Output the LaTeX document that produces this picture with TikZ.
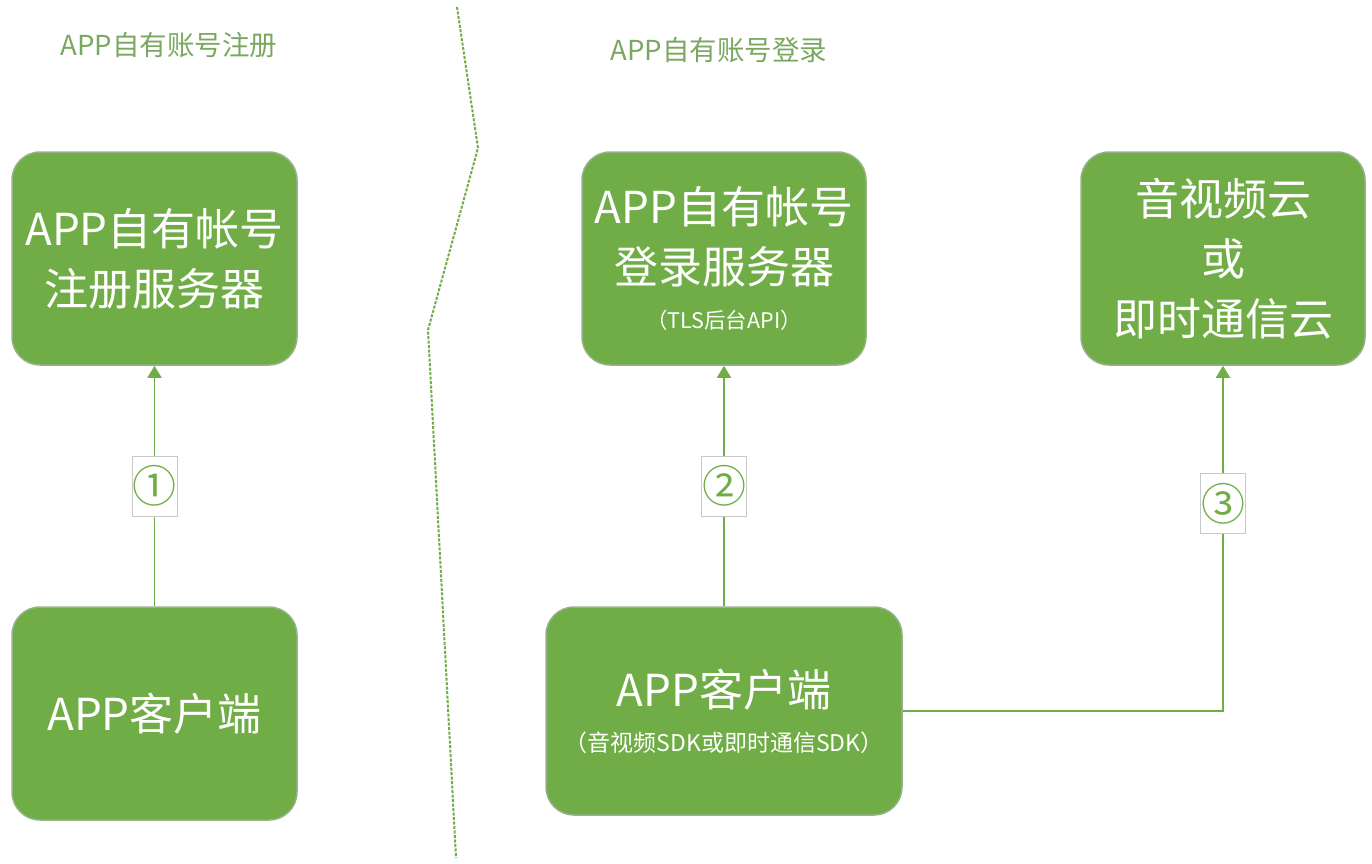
\documentclass[tikz,border=0pt]{standalone}
\usepackage{fontspec}
\setmainfont{Noto Sans CJK SC}
\usetikzlibrary{arrows.meta}
\definecolor{boxgreen}{RGB}{112,173,71}
\definecolor{boxedge}{RGB}{150,178,138}
\definecolor{titlegreen}{RGB}{122,168,96}
\definecolor{numedge}{RGB}{200,200,200}

\begin{document}
\begin{tikzpicture}[x=1pt,y=-1pt,
	box/.style={draw=boxedge, fill=boxgreen, line width=1.5pt, rounded corners=28pt,
		text=white, align=center, inner sep=0pt, font=\fontsize{44}{60}\selectfont},
	title/.style={anchor=west, text=titlegreen, font=\fontsize{27.5}{30}\selectfont},
	conn/.style={draw=boxgreen, line width=1.8pt, -{Triangle[width=14pt,length=12pt]}},
	numbox/.style={draw=numedge, fill=white, line width=1pt, inner sep=0pt,
		minimum width=45pt, minimum height=60pt, text=boxgreen, font=\fontsize{44}{44}\selectfont},
	divider/.style={draw=boxgreen, line width=2pt, dash pattern=on 3pt off 1.5pt}]

	\useasboundingbox (0,0) rectangle (1372,863);

	\node[title] (regtitle) at (57,45) {APP自有账号注册};
	\node[title] (logtitle) at (607,50) {APP自有账号登录};

	\coordinate (d1) at (457,7);
	\coordinate (d2) at (478,148);
	\coordinate (d3) at (428,330);
	\coordinate (d4) at (456,858);
	\draw[divider] (d1) -- (d2) -- (d3) -- (d4);

	\node[box, minimum width=285pt, minimum height=213pt] (reg) at (154.5,258.5) {APP自有帐号\\注册服务器};
	\node[box, minimum width=285pt, minimum height=213pt] (cli1) at (154.5,713.5) {APP客户端};
	\node[box, minimum width=284pt, minimum height=213pt] (login) at (724,258.5)
		{APP自有帐号\\登录服务器\\[-15pt]{\fontsize{21.5}{24}\selectfont （TLS后台API）}};
	\node[box, minimum width=356pt, minimum height=208pt] (cli2) at (724,711)
		{APP客户端\\[-15pt]{\fontsize{23}{26}\selectfont （音视频SDK或即时通信SDK）}};
	\node[box, minimum width=284pt, minimum height=213pt] (cloud) at (1223,258.5) {音视频云\\或\\即时通信云};

	\draw[conn] (cli1) -- node[numbox] (n1) {①} (reg);
	\draw[conn] (cli2) -- node[numbox] (n2) {②} (login);
	\draw[conn] (cli2.east) -| node[numbox, pos=0.8] (n3) {③} (cloud.south);

\end{tikzpicture}
\end{document}
